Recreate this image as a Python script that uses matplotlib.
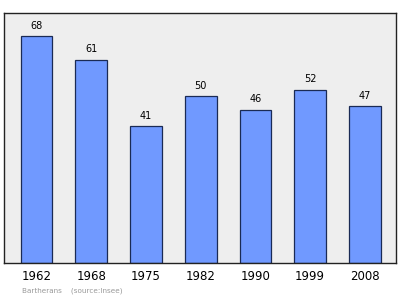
import matplotlib
matplotlib.use("Agg")
import matplotlib.pyplot as plt

# Population de Bartherans (source : Insee)
annees = ["1962", "1968", "1975", "1982", "1990", "1999", "2008"]
population = [68, 61, 41, 50, 46, 52, 47]

COR_BARRA = "#7099ff"
COR_BORDA = "#1a2a55"
COR_FUNDO = "#eeeeee"

fig = plt.figure(figsize=(4.0, 2.99), dpi=100)
ax = fig.add_axes([4 / 400, 1 - 263 / 299, 392 / 400, 250 / 299])
ax.set_facecolor(COR_FUNDO)

x = list(range(len(annees)))
ax.bar(x, population, width=0.58, color=COR_BARRA, edgecolor=COR_BORDA, linewidth=0.9)

for xi, v in zip(x, population):
    ax.annotate(str(v), (xi, v), xytext=(0, 4), textcoords="offset points",
                ha="center", va="bottom", fontsize=7, color="black")

ax.set_xlim(-0.594, 6.57)
ax.set_ylim(0, 75)
ax.set_yticks([])
ax.set_xticks(x)
ax.set_xticklabels(annees, fontsize=8.5)
ax.tick_params(axis="x", length=0, pad=5)

for lado in ax.spines.values():
    lado.set_color("#222222")
    lado.set_linewidth(1.0)

fig.text(22 / 400, 1 - 291 / 299, "Bartherans    (source:Insee)", fontsize=5.2,
         color="#999999", ha="left", va="center")

fig.savefig("out.png", dpi=100)
